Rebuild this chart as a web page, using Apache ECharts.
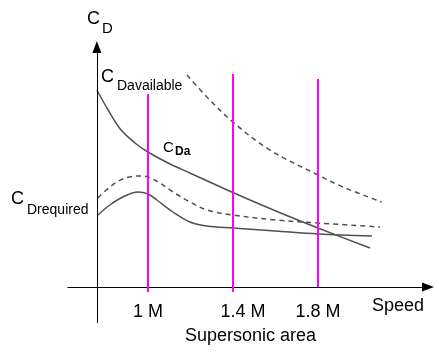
<!DOCTYPE html>
<html>
<head>
  <meta charset="UTF-8">
  <title>CD vs speed</title>
  <script src="https://cdn.jsdelivr.net/npm/echarts@6/dist/echarts.min.js"></script>
  <style>
    html, body { margin: 0; padding: 0; background: #fff; }
    #main { width: 439px; height: 352px; }
  </style>
</head>
<body>
  <div id="main"></div>
  <script>
    // Mach ticks shown on the speed axis
    const machTicks = [1, 1.4, 1.8];

    // C_Da (solid, falling)
    const cdaMach = [0.76, 0.81, 0.87, 0.939, 1.0, 1.104, 1.198, 1.405, 1.602, 1.8, 2.045];
    const cdaVal  = [1.97, 1.78, 1.58, 1.44, 1.35, 1.23, 1.14, 0.94, 0.76, 0.59, 0.39];

    // C_D available (upper dashed)
    const availMach = [1.184, 1.278, 1.405, 1.574, 1.8, 1.918, 2.10];
    const availVal  = [2.12, 1.90, 1.64, 1.37, 1.12, 1.00, 0.85];

    // C_D required, dashed hump
    const reqDashMach = [0.765, 0.821, 0.882, 0.953, 1.0, 1.056, 1.118, 1.198, 1.278, 1.4, 1.6, 1.8, 2.092];
    const reqDashVal  = [0.89, 1.00, 1.08, 1.11, 1.10, 1.04, 0.95, 0.85, 0.77, 0.72, 0.67, 0.64, 0.60];

    // C_D required, solid hump
    const reqMach = [0.765, 0.821, 0.882, 0.953, 1.0, 1.042, 1.118, 1.198, 1.278, 1.4, 1.6, 1.8, 2.054];
    const reqVal  = [0.72, 0.82, 0.90, 0.95, 0.93, 0.87, 0.75, 0.65, 0.61, 0.59, 0.56, 0.53, 0.51];

    // top / bottom of each magenta Mach marker line
    const markerTop = [1.93, 2.13, 2.08];
    const markerBottom = [-0.05, -0.05, 0];

    const yAxisAt = 0.76;
    const xMin = 0.624, xMax = 2.318;
    const yMin = -0.36, yMax = 2.40;

    const zip = (xs, ys) => xs.map((x, i) => [x, ys[i]]);
    const font = '"Liberation Sans", Arial, sans-serif';

    const curveStyle = { color: '#505050', width: 1.5 };
    const dashStyle = { color: '#505050', width: 1.5, type: [5, 4] };

    function curve(xs, ys, style) {
      return {
        type: 'line', data: zip(xs, ys), symbol: 'none',
        smooth: 0.35, lineStyle: style
      };
    }

    function txt(x, y, s, size, extra) {
      return {
        type: 'text', x: x, y: y,
        style: Object.assign({
          text: s, fill: '#000', font: size + 'px ' + font,
          verticalAlign: 'middle', align: 'left'
        }, extra || {})
      };
    }

    const chart = echarts.init(document.getElementById('main'));
    chart.setOption({
      animation: false,
      backgroundColor: '#fff',
      grid: { left: 68, right: 11, top: 47, bottom: 29 },
      xAxis: {
        type: 'value', min: xMin, max: xMax,
        splitLine: { show: false },
        axisTick: { show: false },
        axisLine: {
          show: true, onZero: true,
          symbol: ['none', 'triangle'], symbolSize: [9, 12],
          lineStyle: { color: '#000', width: 1 }
        },
        axisLabel: {
          customValues: machTicks,
          margin: -20,
          color: '#000', fontSize: 18, fontFamily: font,
          formatter: v => v === 1.4 ? '{off|1.4 M}' : v + ' M',
          rich: { off: { fontSize: 18, fontFamily: font, color: '#000', padding: [0, 0, 0, 20] } }
        }
      },
      yAxis: {
        type: 'value', min: yMin, max: yMax, show: false
      },
      series: [
        {
          type: 'line', silent: true, data: [], symbol: 'none',
          markLine: {
            silent: true, animation: false,
            symbol: ['none', 'triangle'], symbolSize: [9, 12],
            label: { show: false },
            lineStyle: { color: '#000', width: 1, type: 'solid' },
            data: [[{ coord: [yAxisAt, yMin] }, { coord: [yAxisAt, yMax] }]]
          }
        },
        {
          type: 'line', silent: true, data: [], symbol: 'none',
          markLine: {
            silent: true, animation: false, symbol: 'none',
            label: { show: false },
            lineStyle: { color: '#ff00ff', width: 2, type: 'solid' },
            data: machTicks.map((m, i) => [
              { coord: [m, markerBottom[i]] }, { coord: [m, markerTop[i]] }
            ])
          }
        },
        curve(cdaMach, cdaVal, curveStyle),
        curve(availMach, availVal, dashStyle),
        curve(reqDashMach, reqDashVal, dashStyle),
        curve(reqMach, reqVal, curveStyle)
      ],
      graphic: [
        txt(87, 19.5, 'C', 18),
        txt(102, 28.5, 'D', 15),
        txt(101, 77, 'C', 18),
        txt(117, 86, 'Davailable', 14),
        txt(163, 147.5, 'C', 15),
        txt(175, 151.5, 'Da', 10, { fontWeight: 'bold' }),
        txt(11, 199, 'C', 18),
        txt(27, 210, 'Drequired', 14),
        txt(372, 306, 'Speed', 18),
        txt(185, 336, 'Supersonic area', 18)
      ]
    });
  </script>
</body>
</html>
